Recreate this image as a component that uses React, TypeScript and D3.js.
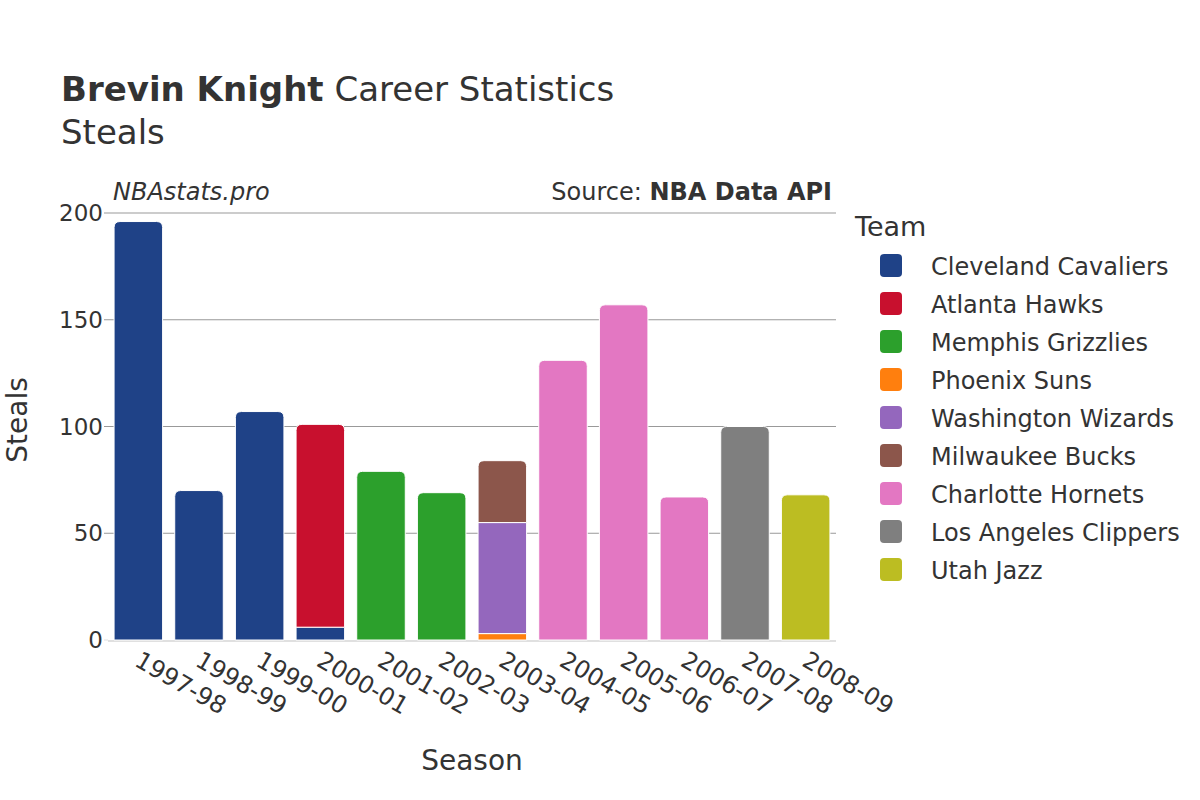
import React from "react";
import * as d3 from "d3";

const seasons = ["1997-98","1998-99","1999-00","2000-01","2001-02","2002-03","2003-04","2004-05","2005-06","2006-07","2007-08","2008-09"];
const teams = ["Cleveland Cavaliers","Atlanta Hawks","Memphis Grizzlies","Phoenix Suns","Washington Wizards","Milwaukee Bucks","Charlotte Hornets","Los Angeles Clippers","Utah Jazz"];
const teamColors = ["#1f4287","#c8102e","#2ca02c","#ff7f0e","#9467bd","#8c564b","#e377c2","#7f7f7f","#bcbd22"];
// steals per season per team (order matches teams)
const cavaliers = [196,70,107,6,0,0,0,0,0,0,0,0];
const hawks =     [0,0,0,95,0,0,0,0,0,0,0,0];
const grizzlies = [0,0,0,0,79,69,0,0,0,0,0,0];
const suns =      [0,0,0,0,0,0,3,0,0,0,0,0];
const wizards =   [0,0,0,0,0,0,52,0,0,0,0,0];
const bucks =     [0,0,0,0,0,0,29,0,0,0,0,0];
const hornets =   [0,0,0,0,0,0,0,131,157,67,0,0];
const clippers =  [0,0,0,0,0,0,0,0,0,0,100,0];
const jazz =      [0,0,0,0,0,0,0,0,0,0,0,68];
const seriesValues = [cavaliers,hawks,grizzlies,suns,wizards,bucks,hornets,clippers,jazz];
const yTicks = [0,50,100,150,200];

const FONT = "'DejaVu Sans', sans-serif";

function barPath(x0: number, x1: number, yTop: number, yBot: number, r: number) {
  const h = yBot - yTop;
  const rr = Math.min(r, h / 2, (x1 - x0) / 2);
  if (rr <= 0) return `M${x0},${yBot}V${yTop}H${x1}V${yBot}Z`;
  return `M${x0},${yBot}V${yTop + rr}Q${x0},${yTop} ${x0 + rr},${yTop}H${x1 - rr}Q${x1},${yTop} ${x1},${yTop + rr}V${yBot}Z`;
}

export default function App() {
  const W = 1200, H = 800;
  const left = 108, right = 836, top = 213, bottom = 640;
  const x = d3.scaleBand<string>().domain(seasons).range([left, right]).paddingInner(0.2).paddingOuter(0.1);
  const y = d3.scaleLinear().domain([0, 200]).range([bottom, top]);

  const bars: React.ReactNode[] = [];
  seasons.forEach((s, i) => {
    let cum = 0;
    const segs: { t: number; v: number }[] = [];
    teams.forEach((_, t) => { const v = seriesValues[t][i]; if (v > 0) segs.push({ t, v }); });
    segs.forEach((sg, k) => {
      const y0 = y(cum), y1 = y(cum + sg.v);
      cum += sg.v;
      const isTop = k === segs.length - 1;
      const x0 = x(s)!, x1 = x0 + x.bandwidth();
      bars.push(
        <path key={`${s}-${sg.t}`} d={barPath(x0, x1, y1, y0, isTop ? 6 : 0)}
          fill={teamColors[sg.t]} stroke="#ffffff" strokeWidth={1} />
      );
    });
  });

  return (
    <svg width={W} height={H} style={{ display: "block", position: "absolute", left: 0, top: 0, background: "#fff" }} fontFamily={FONT}>
      <rect width={W} height={H} fill="#fff" />
      {/* title */}
      <text x={61} y={101} fontSize={34} fill="#333">
        <tspan fontWeight="bold">Brevin Knight</tspan><tspan> Career Statistics</tspan>
      </text>
      <text x={61} y={144} fontSize={34} fill="#333">Steals</text>
      <text x={113} y={200} fontSize={24} fill="#333" fontStyle="italic">NBAstats.pro</text>
      <text x={832} y={200} fontSize={24} fill="#333" textAnchor="end">
        <tspan>Source: </tspan><tspan fontWeight="bold">NBA Data API</tspan>
      </text>
      {/* gridlines */}
      {yTicks.map(t => (
        <g key={t}>
          {t > 0 && <line x1={left} x2={right} y1={y(t)} y2={y(t)} stroke="#999" strokeWidth={1} />}
          <line x1={104} x2={left} y1={y(t)} y2={y(t)} stroke={t > 0 ? "#999" : "#e0e0e0"} strokeWidth={1} />
          <text x={103} y={y(t) + 8} fontSize={23} fill="#333" textAnchor="end">{t}</text>
        </g>
      ))}
      <line x1={left} x2={right} y1={bottom + 1} y2={bottom + 1} stroke="#e0e0e0" strokeWidth={2} />
      {bars}
      {/* x tick labels */}
      {seasons.map(s => {
        const cx = x(s)! + x.bandwidth() / 2;
        return (
          <text key={s} transform={`translate(${cx - 5},${665}) rotate(30)`} fontSize={24} fill="#333">{s}</text>
        );
      })}
      <text x={472} y={770} fontSize={28} fill="#333" textAnchor="middle">Season</text>
      <text transform={`translate(27,${420}) rotate(-90)`} fontSize={28} fill="#333" textAnchor="middle">Steals</text>
      {/* legend */}
      <text x={855} y={236} fontSize={27} fill="#333">Team</text>
      {teams.map((t, i) => (
        <g key={t}>
          <rect x={880} y={254} width={22} height={23} rx={4} fill={teamColors[i]} transform={`translate(0,${i * 38})`} />
          <text x={931} y={275 + i * 38} fontSize={24} fill="#333">{t}</text>
        </g>
      ))}
    </svg>
  );
}
